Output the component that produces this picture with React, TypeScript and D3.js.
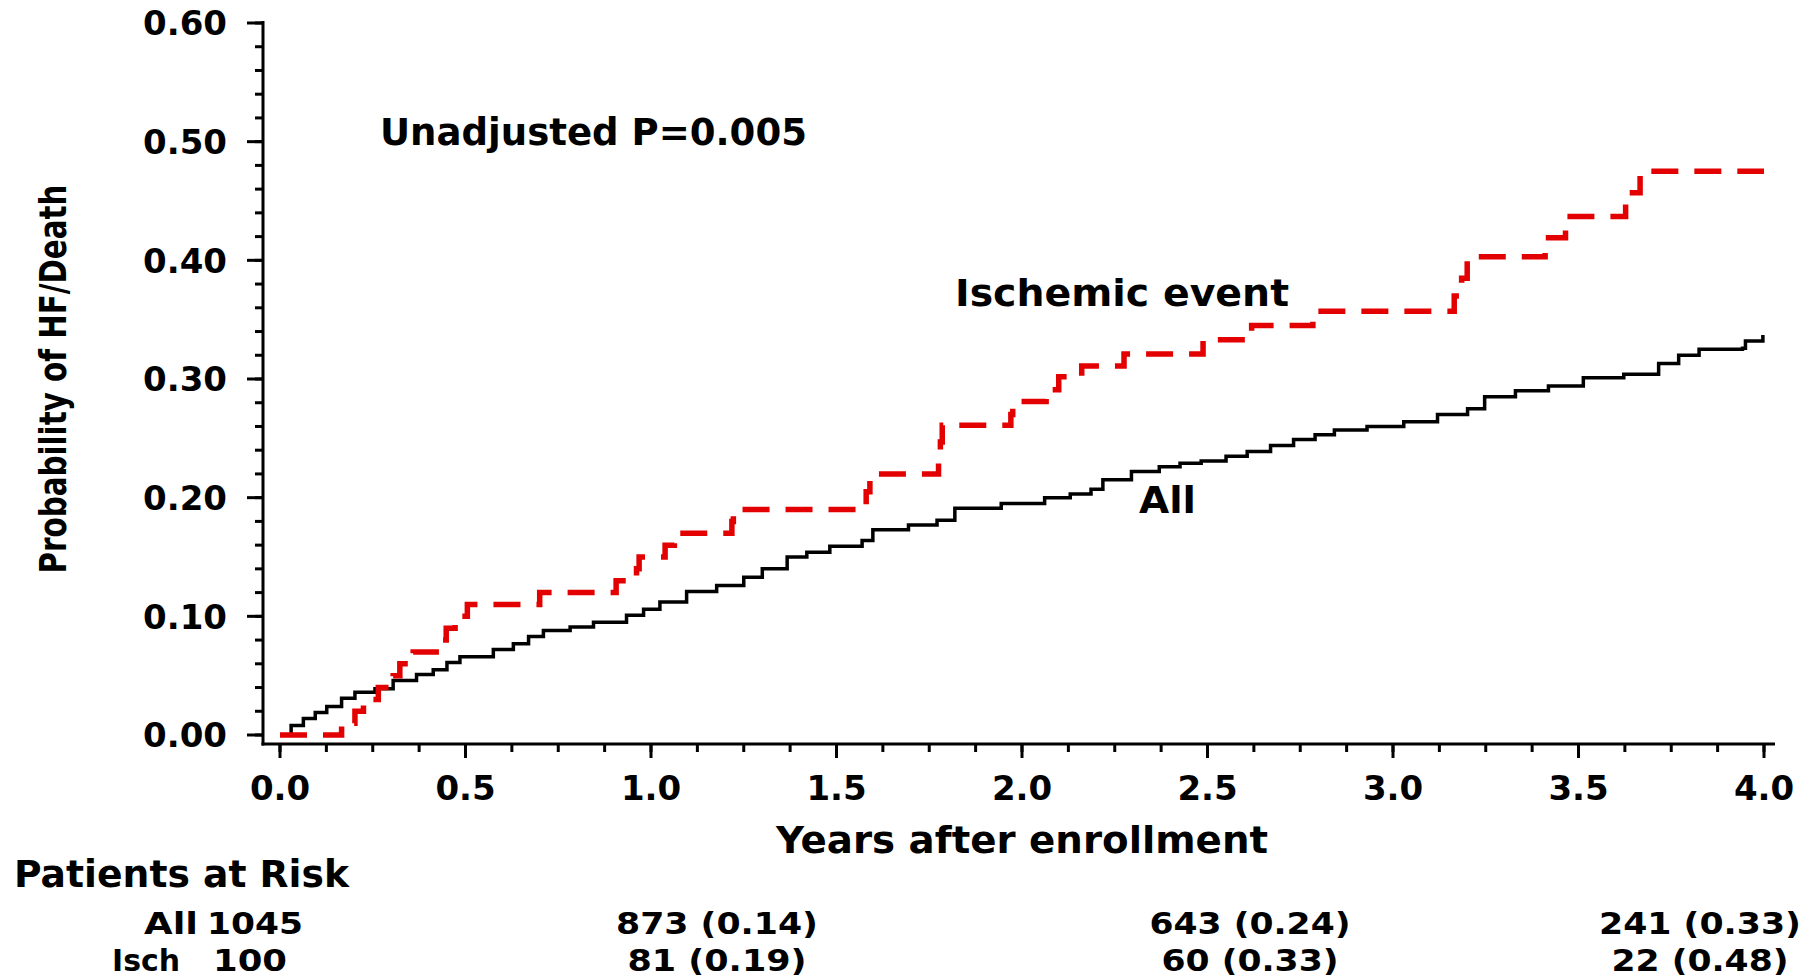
import React from 'react';
import * as d3 from 'd3';

const width = 1808;
const height = 978;
const font = "'DejaVu Sans', Verdana, sans-serif";

const yTickValues = [0, 0.1, 0.2, 0.3, 0.4, 0.5, 0.6];
const xTickValues = [0, 0.5, 1, 1.5, 2, 2.5, 3, 3.5, 4];

// step points: [years, probability]
const allCurve: [number, number][] = [
  [0, 0], [0.03, 0.008], [0.063, 0.014], [0.095, 0.019], [0.126, 0.024], [0.166, 0.031],
  [0.202, 0.036], [0.256, 0.039], [0.305, 0.046], [0.368, 0.051], [0.413, 0.055], [0.45, 0.061],
  [0.485, 0.066], [0.575, 0.072], [0.629, 0.077], [0.67, 0.083], [0.71, 0.088], [0.782, 0.091],
  [0.845, 0.095], [0.934, 0.101], [0.98, 0.106], [1.024, 0.112], [1.096, 0.121], [1.177, 0.126],
  [1.25, 0.133], [1.3, 0.14], [1.367, 0.15], [1.42, 0.154], [1.482, 0.159], [1.569, 0.164],
  [1.598, 0.173], [1.694, 0.177], [1.771, 0.181], [1.819, 0.191], [1.944, 0.195], [2.061, 0.2],
  [2.13, 0.203], [2.186, 0.207], [2.218, 0.215], [2.295, 0.222], [2.37, 0.226], [2.426, 0.229],
  [2.483, 0.231], [2.55, 0.235], [2.607, 0.239], [2.67, 0.244], [2.732, 0.249], [2.79, 0.253],
  [2.842, 0.257], [2.93, 0.26], [3.029, 0.264], [3.12, 0.27], [3.201, 0.275], [3.247, 0.285],
  [3.33, 0.29], [3.419, 0.294], [3.513, 0.301], [3.622, 0.304], [3.716, 0.313], [3.77, 0.32],
  [3.825, 0.325], [3.942, 0.326], [3.95, 0.332], [3.997, 0.337],
];

const ischCurve: [number, number][] = [
  [0, 0], [0.166, 0.01], [0.202, 0.02], [0.225, 0.03], [0.265, 0.04], [0.305, 0.05],
  [0.323, 0.06], [0.359, 0.07], [0.436, 0.08], [0.448, 0.09], [0.472, 0.1], [0.505, 0.11],
  [0.7, 0.12], [0.906, 0.13], [0.961, 0.14], [0.968, 0.15], [1.038, 0.16], [1.063, 0.17],
  [1.218, 0.18], [1.222, 0.19], [1.58, 0.205], [1.59, 0.22], [1.775, 0.232], [1.78, 0.247],
  [1.785, 0.261], [1.97, 0.27], [1.975, 0.281], [2.065, 0.291], [2.099, 0.302], [2.161, 0.311],
  [2.275, 0.321], [2.488, 0.333], [2.619, 0.345], [2.784, 0.357], [3.165, 0.37], [3.185, 0.385],
  [3.2, 0.403], [3.41, 0.419], [3.465, 0.437], [3.627, 0.457], [3.666, 0.475], [4.0, 0.475],
];

const riskRowLabels = ['All', 'Isch'];
const riskAll = ['1045', '873 (0.14)', '643 (0.24)', '241 (0.33)'];
const riskIsch = ['100', '81 (0.19)', '60 (0.33)', '22 (0.48)'];

const x = d3.scaleLinear().domain([0, 4]).range([280, 1764]);
const y = d3.scaleLinear().domain([0, 0.6]).range([735, 23]);

const axisY = 744;
const axisX = 263;

const line = d3.line<[number, number]>()
  .x(d => x(d[0]))
  .y(d => y(d[1]))
  .curve(d3.curveStepAfter);

const App = () => {
  const yMinor = d3.range(31).map(i => i * 0.02);
  const xMinor = d3.range(33).map(i => i * 0.125);
  const tableCols = [717, 1250, 1700];
  const allWidths = [202, 201, 202];
  const ischWidths = [179, 177, 177];
  const rowAll = 934;
  const rowIsch = 971;
  const rowFont = 31;

  return (
    <svg width={width} height={height} style={{ position: 'absolute', left: 0, top: 0, background: '#fff' }}
      fontFamily={font} fontWeight="bold">
      <rect width={width} height={height} fill="#fff" />

      {/* y axis */}
      <line x1={axisX} x2={axisX} y1={y(0.6) - 2} y2={axisY + 1.5} stroke="#000" strokeWidth={3} />
      {yMinor.map(v => (
        <line key={'ym' + v} x1={axisX - 8} x2={axisX} y1={y(v)} y2={y(v)} stroke="#000" strokeWidth={3} />
      ))}
      {yTickValues.map(v => (
        <g key={'y' + v}>
          <line x1={axisX - 16} x2={axisX} y1={y(v)} y2={y(v)} stroke="#000" strokeWidth={3} />
          <text x={227} y={y(v)} dy="0.36em" textAnchor="end" fontSize={34}>{d3.format('.2f')(v)}</text>
        </g>
      ))}

      {/* x axis */}
      <line x1={axisX - 1.5} x2={1775} y1={axisY} y2={axisY} stroke="#000" strokeWidth={3} />
      {xMinor.map(v => (
        <line key={'xm' + v} x1={x(v)} x2={x(v)} y1={axisY} y2={axisY + 8} stroke="#000" strokeWidth={3} />
      ))}
      {xTickValues.map(v => (
        <g key={'x' + v}>
          <line x1={x(v)} x2={x(v)} y1={axisY} y2={axisY + 14} stroke="#000" strokeWidth={3} />
          <text x={x(v)} y={800} textAnchor="middle" fontSize={34}>{d3.format('.1f')(v)}</text>
        </g>
      ))}

      {/* curves */}
      <path d={line(allCurve) || ''} fill="none" stroke="#000" strokeWidth={3.5} />
      <path d={line(ischCurve) || ''} fill="none" stroke="#e30000" strokeWidth={5.5} strokeDasharray="27,16" />

      {/* labels */}
      <text x={380} y={145} fontSize={37} textLength={427} lengthAdjust="spacingAndGlyphs">Unadjusted P=0.005</text>
      <text x={955} y={306} fontSize={38} textLength={334} lengthAdjust="spacingAndGlyphs">Ischemic event</text>
      <text x={1139} y={513} fontSize={38} textLength={57} lengthAdjust="spacingAndGlyphs">All</text>
      <text x={(x(0) + x(4)) / 2} y={853} textAnchor="middle" fontSize={38} textLength={492}
        lengthAdjust="spacingAndGlyphs">Years after enrollment</text>
      <text transform="translate(66,379) rotate(-90)" textAnchor="middle" fontSize={38}
        fontFamily="'Liberation Sans Narrow', 'DejaVu Sans Condensed', 'Liberation Sans', sans-serif"
        textLength={389} lengthAdjust="spacingAndGlyphs">Probability of HF/Death</text>

      {/* patients at risk */}
      <text x={14} y={887} fontSize={37} textLength={335} lengthAdjust="spacingAndGlyphs">Patients at Risk</text>
      <text x={198} y={rowAll} textAnchor="end" fontSize={rowFont} textLength={54} lengthAdjust="spacingAndGlyphs">
        {riskRowLabels[0]}</text>
      <text x={112} y={rowIsch} fontSize={rowFont} textLength={68} lengthAdjust="spacingAndGlyphs">{riskRowLabels[1]}</text>
      <text x={255} y={rowAll} textAnchor="middle" fontSize={rowFont} textLength={96}
        lengthAdjust="spacingAndGlyphs">{riskAll[0]}</text>
      <text x={250} y={rowIsch} textAnchor="middle" fontSize={rowFont} textLength={74}
        lengthAdjust="spacingAndGlyphs">{riskIsch[0]}</text>
      {tableCols.map((cx, i) => (
        <g key={'tc' + i}>
          <text x={cx} y={rowAll} textAnchor="middle" fontSize={rowFont} textLength={allWidths[i]}
            lengthAdjust="spacingAndGlyphs">{riskAll[i + 1]}</text>
          <text x={cx} y={rowIsch} textAnchor="middle" fontSize={rowFont} textLength={ischWidths[i]}
            lengthAdjust="spacingAndGlyphs">{riskIsch[i + 1]}</text>
        </g>
      ))}
    </svg>
  );
};

export default App;
